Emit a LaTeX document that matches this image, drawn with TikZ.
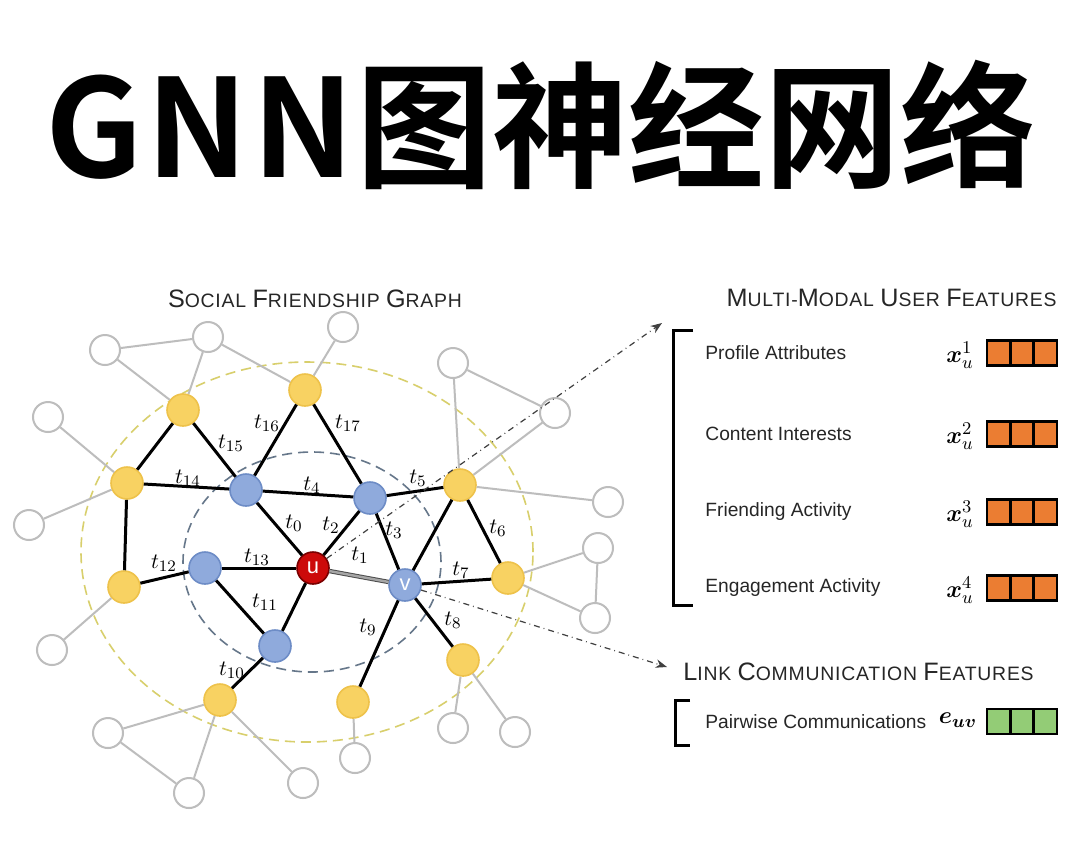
\documentclass[tikz,border=0pt]{standalone}
\usepackage{amsmath,amssymb}
\usepackage{fontspec}
\setmainfont{Liberation Sans}
\newfontfamily\cjk{Noto Sans CJK SC}[BoldFont={Noto Sans CJK SC Bold}]
\newfontfamily\capfont{Liberation Sans}[LetterSpace=4]
\usepackage{xcolor}
\usetikzlibrary{arrows.meta,positioning}

\definecolor{nodeyellow}{HTML}{F8D262}
\definecolor{yellowrim}{HTML}{EEC24A}
\definecolor{nodeblue}{HTML}{8FAADC}
\definecolor{bluerim}{HTML}{6D8CC6}
\definecolor{nodered}{HTML}{CC0A0A}
\definecolor{redrim}{HTML}{7A0000}
\definecolor{farline}{HTML}{BDBDBD}
\definecolor{featorange}{HTML}{EB7D32}
\definecolor{featgreen}{HTML}{93CC76}
\definecolor{ringblue}{HTML}{66778A}
\definecolor{ringyellow}{HTML}{D8CF6C}

% small caps done by hand (Liberation Sans has none)
\newcommand\capsmall[2]{{\fontsize{12.6}{14}\selectfont #1}{\fontsize{9.7}{11}\selectfont #2}}

\begin{document}
\begin{tikzpicture}[
  x=0.5pt, y=-0.5pt, >=Stealth,
  yellownode/.style={circle, draw=yellowrim, fill=nodeyellow, line width=0.8pt, minimum size=16pt, inner sep=0pt},
  bluenode/.style={circle, draw=bluerim, fill=nodeblue, line width=0.8pt, minimum size=16pt, inner sep=0pt,
    text=white, font=\fontsize{11}{11}\selectfont},
  rednode/.style={circle, draw=redrim, fill=nodered, line width=0.8pt, minimum size=16pt, inner sep=0pt,
    text=white, font=\fontsize{11}{11}\selectfont},
  graynode/.style={circle, draw=farline, fill=white, line width=1pt, minimum size=15pt, inner sep=0pt},
  friend/.style={line width=1.5pt, black},
  faint/.style={line width=1pt, farline},
  tlab/.style={font=\fontsize{11}{11}\selectfont, inner sep=0pt},
  head/.style={inner sep=0pt, text=black!85, font=\capfont},
  feat/.style={font=\fontsize{9.6}{11}\selectfont, text=black!85, inner sep=0pt, anchor=west},
  vecname/.style={font=\fontsize{13}{13}\selectfont, inner sep=0pt},
  cell/.style={draw=black, line width=1.3pt},
  flow/.style={->, dash dot, line width=0.6pt, black!75}
]
\useasboundingbox[fill=white] (0,0) rectangle (1080,859);

% Title
\node[font=\cjk\bfseries\fontsize{68}{68}\selectfont, anchor=base] (title) at (541,177)
  {G\kern2pt N\kern2pt N\kern1pt 图神经网络};

% Left panel: friendship graph
\node[head] (gtitle) at (315,299) {\capsmall{S}{OCIAL} \capsmall{F}{RIENDSHIP} \capsmall{G}{RAPH}};

% hop rings
\draw[ringyellow, dashed, line width=0.8pt, dash pattern=on 5pt off 3pt] (307,552) ellipse [x radius=113pt, y radius=95pt];
\draw[ringblue, dashed, line width=0.8pt, dash pattern=on 5pt off 3pt] (312,562) ellipse [x radius=64.5pt, y radius=55pt];

% outer (grey) users
\foreach \n/\x/\y in {g1/105/350, g2/208/337, g3/343/327, g4/453/363, g5/48/417, g6/29/525,
  g7/52/650, g8/108/733, g9/189/793, g10/303/783, g11/355/758, g12/453/728, g13/515/732,
  g14/555/413, g15/608/502, g16/598/548, g17/595/618}
  \node[graynode] (\n) at (\x,\y) {};

% two-hop friends
\foreach \n/\x/\y in {y1/183/410, y2/305/390, y3/127/483, y4/460/485, y5/124/587,
  y6/508/578, y7/220/700, y8/353/702, y9/463/660}
  \node[yellownode] (\n) at (\x,\y) {};

% one-hop friends
\foreach \n/\x/\y in {b1/246/490, b2/370/498, b3/205/568, b4/275/646}
  \node[bluenode] (\n) at (\x,\y) {};
\node[rednode] (u) at (313,568) {u};
\node[bluenode] (v) at (405,585) {v};

% grey links
\foreach \a/\b in {g1/g2, g1/y1, g2/y1, g2/y2, g3/y2, g5/y3, g6/y3, g4/y4, g4/g14, g14/y4,
  y4/g15, y6/g16, y6/g17, g16/g17, y5/g7, y7/g8, y7/g9, g8/g9, y7/g10, y8/g11, y9/g12, y9/g13}
  \draw[faint] (\a) -- (\b);

% friendship links
\foreach \a/\b in {y1/y3, y1/b1, y2/b1, y2/b2, y3/b1, b1/b2, b2/y4, b1/u, b2/u, b2/v, y4/v,
  y4/y6, v/y6, v/y9, v/y8, y3/y5, y5/b3, b3/u, b3/b4, u/b4, b4/y7}
  \draw[friend] (\a) -- (\b);
\draw[line width=0.5pt, black!70, double=black!35, double distance=1.2pt] (u) -- (v);

% link times
\foreach \i/\x/\y in {0/294/523, 1/360/555, 2/331/525, 3/394/530, 4/312/485, 5/418/478,
  6/498/528, 7/461/570, 8/453/620, 9/368/627, 10/232/670, 11/265/602, 12/164/563,
  13/257/557, 14/188/478, 15/231/443, 16/267/423, 17/348/423}
  \node[tlab] (t\i) at (\x,\y) {$t_{\i}$};

% Right panel: user features
\node[head, anchor=east] (utitle) at (1057,298)
  {\capsmall{M}{ULTI-}\capsmall{M}{ODAL} \capsmall{U}{SER} \capsmall{F}{EATURES}};
\draw[line width=1.5pt] (693,330) -- (673,330) -- (673,605) -- (693,605);
\foreach \yy/\txt/\k in {353/Profile Attributes/1, 434/Content Interests/2,
  512/Friending Activity/3, 588/Engagement Activity/4} {
  \node[feat] (f\k) at (705,\yy) {\txt};
  \node[vecname] (x\k) at (960,\yy+2) {$\boldsymbol{x}_{u}^{\k}$};
  \foreach \c in {0,1,2}
    \draw[cell, fill=featorange] (987+\c*23.33,\yy-12.5) rectangle ++(23.33,25);
}

% link features
\node[head, anchor=west] (ltitle) at (683,672)
  {\capsmall{L}{INK} \capsmall{C}{OMMUNICATION} \capsmall{F}{EATURES}};
\draw[line width=1.5pt] (690,700) -- (675,700) -- (675,745) -- (690,745);
\node[feat] (pc) at (705,722) {Pairwise Communications};
\node[vecname] (euv) at (958,720) {$\boldsymbol{e}_{\boldsymbol{uv}}$};
\foreach \c in {0,1,2}
  \draw[cell, fill=featgreen] (987+\c*23.33,709) rectangle ++(23.33,25);

% pointers to the feature panels
\coordinate (ptop) at (662,323);
\coordinate (pbot) at (667,667);
\draw[flow] (u) -- (ptop);
\draw[flow] (v) -- (pbot);
\end{tikzpicture}
\end{document}
